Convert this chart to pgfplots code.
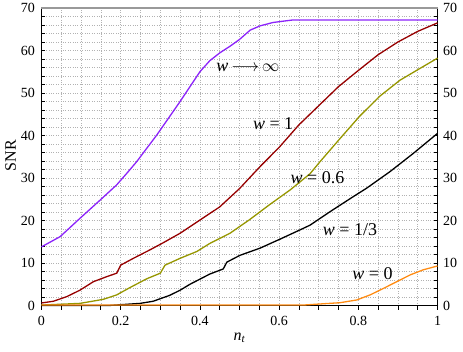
\documentclass[border=0pt]{standalone}
\usepackage{fontspec}
\setmainfont{Liberation Serif}
\usepackage{pgfplots}
\pgfplotsset{compat=1.18}

\definecolor{cInf}{RGB}{140,35,250}
\definecolor{cOne}{RGB}{150,0,0}
\definecolor{cSix}{RGB}{150,150,0}
\definecolor{cZero}{RGB}{255,140,20}

\begin{document}
\begin{tikzpicture}
  \useasboundingbox (-41.5pt,-45.5pt) rectangle (421.5pt,305.5pt);
  \begin{axis}[
    scale only axis,
    width=396pt, height=297.5pt,
    xmin=0, xmax=1, ymin=0, ymax=70,
    xtick={0,0.2,...,1}, minor x tick num=3,
    ytick={0,10,...,70}, minor y tick num=4,
    xtick pos=bottom, ytick pos=both,
    tick align=inside,
    major tick length=4pt, minor tick length=4pt,
    x tick style={yshift=-4pt},
    every tick/.style={black, line width=0.8pt},
    grid=both,
    major grid style={dotted, gray!60, line width=0.6pt},
    minor grid style={dotted, gray!60, line width=0.6pt},
    axis line style={black, line width=1.3pt},
    tick label style={font=\fontsize{14}{16}\selectfont},
    /pgf/number format/assume math mode=true,
    yticklabel style={xshift=-3pt},
    xticklabel style={yshift=-7pt},
    xlabel={\fontsize{16}{18}\selectfont\itshape n\textsubscript{t}},
    ylabel={\fontsize{16}{18}\selectfont SNR},
    xlabel style={at={(axis description cs:0.5,-0.109)}, anchor=center},
    ylabel style={at={(axis description cs:-0.078,0.503)}, anchor=center, rotate=0},
    clip=false,
    every axis plot/.append style={line width=1.3pt, line join=round},
  ]
    \draw[gray!80, line width=1.3pt] (rel axis cs:0,1) -- (rel axis cs:1,1);

    % w -> infinity
    \addplot[cInf] coordinates {
      (0,13.8) (0.047,16.2) (0.097,20.5) (0.148,24.8) (0.19,28.4)
      (0.22,31.6) (0.24,33.8) (0.291,40.1) (0.35,48) (0.4,55)
      (0.425,57.6) (0.451,59.5) (0.476,61) (0.5,62.6) (0.527,64.8)
      (0.552,65.8) (0.585,66.6) (0.636,67.2) (1,67.2)
    };
    % w = 1
    \addplot[cOne] coordinates {
      (0,0.6) (0.03,1.0) (0.064,2.1) (0.097,3.6) (0.131,5.6) (0.165,6.8)
      (0.19,7.6) (0.2,9.5) (0.232,11.1) (0.274,13.1) (0.308,14.8)
      (0.35,17) (0.4,20.1) (0.45,23.2) (0.5,27.5) (0.55,32.5) (0.6,37.2)
      (0.65,42.5) (0.7,47) (0.75,51.5) (0.8,55.3) (0.85,59) (0.9,62)
      (0.95,64.5) (1,66.5)
    };
    % w = 0.6
    \addplot[cSix] coordinates {
      (0,0.1) (0.097,0.5) (0.122,0.9) (0.156,1.45) (0.19,2.5) (0.223,4.2)
      (0.266,6.3) (0.3,7.6) (0.312,9.5) (0.35,11.1) (0.392,12.7)
      (0.425,14.6) (0.476,17) (0.527,20.3) (0.577,23.8) (0.628,27.2)
      (0.678,31) (0.703,33.8) (0.754,39.3) (0.804,44.6) (0.855,49.3)
      (0.905,53) (0.956,55.8) (1,58.2)
    };
    % w = 1/3
    \addplot[black] coordinates {
      (0,0) (0.17,0) (0.249,0.5) (0.282,1.0) (0.324,2.4) (0.35,3.6)
      (0.375,5) (0.4,6.2) (0.425,7.4) (0.459,8.6) (0.468,10.2)
      (0.501,11.8) (0.552,13.5) (0.602,15.6) (0.653,17.8) (0.678,18.9)
      (0.729,22.1) (0.787,25.6) (0.821,27.6) (0.88,31.5) (0.939,35.8)
      (1,40.5)
    };
    % w = 0
    \addplot[cZero] coordinates {
      (0,0.1) (0.66,0.1) (0.754,0.66) (0.796,1.3) (0.83,2.5) (0.863,4)
      (0.897,5.6) (0.931,7.2) (0.964,8.4) (1,9.3)
    };

    \begin{scope}[font=\fontsize{18}{20}\selectfont]
      \node at (axis cs:0.521,55.9) {{\itshape w}\,$\longrightarrow$\,$\infty$};
      \node at (axis cs:0.585,42.9) {{\itshape w} = 1};
      \node at (axis cs:0.697,30) {{\itshape w} = 0.6};
      \node at (axis cs:0.779,17.8) {{\itshape w} = 1/3};
      \node at (axis cs:0.836,7.6) {{\itshape w} = 0};
    \end{scope}
  \end{axis}

  % right-hand tick labels
  \begin{axis}[
    scale only axis,
    width=396pt, height=297.5pt,
    xmin=0, xmax=1, ymin=0, ymax=70,
    axis y line*=right, hide x axis,
    axis line style={draw=none},
    ytick={0,10,...,70},
    major tick length=0pt,
    tick label style={font=\fontsize{14}{16}\selectfont},
    /pgf/number format/assume math mode=true,
    yticklabel style={xshift=2pt},
  ]
    \addplot[draw=none] coordinates {(0,0) (1,70)};
  \end{axis}
\end{tikzpicture}
\end{document}
